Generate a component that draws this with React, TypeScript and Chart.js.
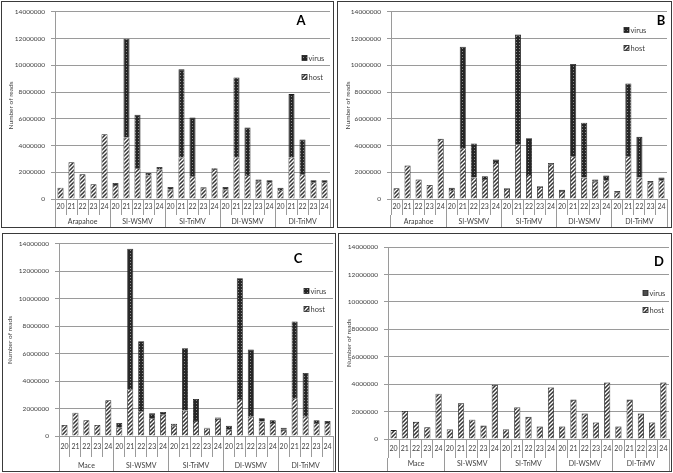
import React, { useEffect, useRef } from 'react';
import { Chart, registerables } from 'chart.js';

Chart.register(...registerables);

// ---------- data ----------
const replicates = ['20', '21', '22', '23', '24'];
const groupsAB = ['Arapahoe', 'SI-WSMV', 'SI-TriMV', 'DI-WSMV', 'DI-TriMV'];
const groupsCD = ['Mace', 'SI-WSMV', 'SI-TriMV', 'DI-WSMV', 'DI-TriMV'];
const seriesNames = ['virus', 'host'];
const yMax = 14000000;
const yStep = 2000000;

const hostA = [
  850000, 2750000, 1850000, 1100000, 4850000,
  1050000, 4600000, 2300000, 1750000, 2200000,
  700000, 3100000, 1700000, 850000, 2250000,
  700000, 3100000, 1800000, 1300000, 1250000,
  650000, 3100000, 1850000, 1250000, 1250000,
];
const virusA = [
  0, 0, 0, 0, 0,
  150000, 7400000, 4000000, 200000, 200000,
  200000, 6600000, 4400000, 50000, 50000,
  200000, 6000000, 3550000, 150000, 150000,
  200000, 4750000, 2600000, 150000, 150000,
];

const hostB = [
  800000, 2500000, 1450000, 1050000, 4500000,
  650000, 3800000, 1600000, 1500000, 2700000,
  750000, 4100000, 1800000, 900000, 2600000,
  600000, 3200000, 1600000, 1300000, 1400000,
  500000, 3200000, 1600000, 1250000, 1400000,
];
const virusB = [
  0, 0, 0, 0, 0,
  200000, 7600000, 2550000, 200000, 250000,
  50000, 8200000, 2750000, 50000, 100000,
  100000, 6900000, 4100000, 150000, 350000,
  100000, 5450000, 3050000, 100000, 200000,
];

const hostC = [
  800000, 1700000, 1150000, 800000, 2600000,
  600000, 3400000, 1800000, 1300000, 1550000,
  750000, 1850000, 1100000, 550000, 1250000,
  500000, 2700000, 1400000, 1050000, 950000,
  450000, 2750000, 1400000, 950000, 950000,
];
const virusC = [
  0, 0, 0, 0, 0,
  350000, 10250000, 5100000, 350000, 200000,
  150000, 4550000, 1600000, 50000, 100000,
  250000, 8800000, 4900000, 250000, 200000,
  150000, 5600000, 3200000, 200000, 150000,
];

const hostD = [
  650000, 2050000, 1250000, 850000, 3300000,
  700000, 2600000, 1400000, 950000, 3950000,
  700000, 2300000, 1600000, 900000, 3750000,
  900000, 2850000, 1850000, 1200000, 4100000,
  900000, 2850000, 1850000, 1200000, 4100000,
];
const virusD = [
  0, 0, 0, 0, 0,
  30000, 30000, 30000, 30000, 30000,
  30000, 30000, 30000, 30000, 30000,
  30000, 30000, 30000, 30000, 30000,
  30000, 30000, 30000, 30000, 30000,
];

// ---------- layout ----------
type PanelCfg = {
  letter: string;
  groups: string[];
  host: number[];
  virus: number[];
  solidVirus: boolean;
  left: number; top: number; width: number; height: number;
  yW: number; padR: number; padT: number;
  catH: number; grpH: number; catPad: number; grpPad: number;
  titlePad: number;
  letterDx: number; letterDy: number;
  legDx: number; virusDy: number; hostDy: number;
};

const panels: PanelCfg[] = [
  { letter: 'A', groups: groupsAB, host: hostA, virus: virusA, solidVirus: false,
    left: 1, top: 1, width: 333, height: 227,
    yW: 53, padR: 3, padT: 4, catH: 16, grpH: 12, catPad: -12, grpPad: -9, titlePad: 5,
    letterDx: -29, letterDy: 9, legDx: -28, virusDy: 46, hostDy: 65 },
  { letter: 'B', groups: groupsAB, host: hostB, virus: virusB, solidVirus: false,
    left: 337, top: 1, width: 335, height: 227,
    yW: 53, padR: 4, padT: 4, catH: 16, grpH: 12, catPad: -12, grpPad: -9, titlePad: 6,
    letterDx: -6, letterDy: 9, legDx: -43, virusDy: 18, hostDy: 36 },
  { letter: 'C', groups: groupsCD, host: hostC, virus: virusC, solidVirus: false,
    left: 2, top: 233, width: 334, height: 239,
    yW: 56, padR: 2, padT: 6, catH: 21, grpH: 14, catPad: -14, grpPad: -9, titlePad: 3,
    letterDx: -35, letterDy: 15, legDx: -29, virusDy: 47, hostDy: 65 },
  { letter: 'D', groups: groupsCD, host: hostD, virus: virusD, solidVirus: true,
    left: 338, top: 233, width: 334, height: 239,
    yW: 49, padR: 2, padT: 13, catH: 19, grpH: 13, catPad: -13, grpPad: -11, titlePad: 6,
    letterDx: -10, letterDy: 15, legDx: -26, virusDy: 46, hostDy: 63 },
];

const FONT = 'Lato, "Liberation Sans", sans-serif';
const LINE = '#9a9a9a';
const TEXT = '#404040';

function makeHostPattern(): CanvasPattern | string {
  const c = document.createElement('canvas');
  c.width = 4; c.height = 4;
  const g = c.getContext('2d');
  if (!g) return '#aaa';
  g.fillStyle = '#ffffff';
  g.fillRect(0, 0, 4, 4);
  g.strokeStyle = '#333333';
  g.lineWidth = 1.5;
  g.beginPath();
  g.moveTo(-1, 5); g.lineTo(5, -1);
  g.moveTo(-1, 1); g.lineTo(1, -1);
  g.moveTo(3, 5); g.lineTo(5, 3);
  g.stroke();
  return g.createPattern(c, 'repeat') || '#aaa';
}

function makeVirusPattern(): CanvasPattern | string {
  const c = document.createElement('canvas');
  c.width = 3; c.height = 3;
  const g = c.getContext('2d');
  if (!g) return '#333';
  g.fillStyle = '#262626';
  g.fillRect(0, 0, 3, 3);
  g.fillStyle = '#8c8c8c';
  g.fillRect(1, 1, 1, 1);
  return g.createPattern(c, 'repeat') || '#333';
}

const panelDecor = {
  id: 'panelDecor',
  afterDraw(chart: any, _args: any, opts: any) {
    const { ctx, chartArea } = chart;
    const { right, top } = chartArea;
    ctx.save();
    ctx.fillStyle = '#000';
    ctx.font = `bold 13px ${FONT}`;
    ctx.textAlign = 'center';
    ctx.textBaseline = 'middle';
    ctx.fillText(opts.letter, right + opts.letterDx, top + opts.letterDy);
    const items = [
      { name: opts.names[0], fill: opts.virusFill, dy: opts.virusDy },
      { name: opts.names[1], fill: opts.hostFill, dy: opts.hostDy },
    ];
    ctx.font = `7.5px ${FONT}`;
    ctx.textAlign = 'left';
    for (const it of items) {
      const x = right + opts.legDx;
      const y = top + it.dy;
      ctx.fillStyle = it.fill;
      ctx.fillRect(x, y - 2.5, 5, 5);
      ctx.strokeStyle = '#222';
      ctx.lineWidth = 0.8;
      ctx.strokeRect(x, y - 2.5, 5, 5);
      ctx.fillStyle = TEXT;
      ctx.fillText(it.name, x + 6.5, y + 0.5);
    }
    ctx.restore();
  },
};

function Panel({ cfg }: { cfg: PanelCfg }) {
  const ref = useRef<HTMLCanvasElement>(null);
  useEffect(() => {
    const canvas = ref.current;
    if (!canvas) return;
    const hostFill = makeHostPattern();
    const virusFill = cfg.solidVirus ? '#4d4d4d' : makeVirusPattern();
    const labels = cfg.groups.flatMap(() => replicates);
    const chart = new Chart(canvas, {
      type: 'bar',
      data: {
        labels,
        datasets: [
          { label: seriesNames[1], data: cfg.host, backgroundColor: hostFill as any, borderColor: '#1e1e1e', borderWidth: 0.8, barPercentage: 0.55, categoryPercentage: 1, stack: 's' },
          { label: seriesNames[0], data: cfg.virus, backgroundColor: virusFill as any, borderColor: '#1e1e1e', borderWidth: 0.8, barPercentage: 0.55, categoryPercentage: 1, stack: 's' },
        ],
      },
      options: {
        responsive: false,
        animation: false,
        devicePixelRatio: 1,
        layout: { padding: { left: 0, right: cfg.padR, top: cfg.padT, bottom: 0 } },
        scales: {
          x: {
            type: 'category',
            stacked: true,
            position: 'bottom',
            weight: 0,
            offset: true,
            grid: { offset: true, drawOnChartArea: false, drawTicks: true, tickLength: cfg.catH, color: LINE },
            border: { display: true, color: LINE },
            ticks: { padding: cfg.catPad, autoSkip: false, maxRotation: 0, color: TEXT, font: { family: FONT, size: 7 } },
            afterFit: (s: any) => { s.height = cfg.catH; },
          } as any,
          x2: {
            type: 'category',
            labels: cfg.groups,
            position: 'bottom',
            weight: 1,
            offset: true,
            grid: { offset: true, drawOnChartArea: false, drawTicks: true, tickLength: cfg.grpH, color: LINE },
            border: { display: false },
            ticks: { padding: cfg.grpPad, autoSkip: false, maxRotation: 0, color: TEXT, font: { family: FONT, size: 7 } },
            afterFit: (s: any) => { s.height = cfg.grpH; },
          } as any,
          y: {
            stacked: true,
            min: 0,
            max: yMax,
            grid: { color: LINE, tickLength: 4 },
            border: { display: true, color: LINE },
            ticks: { stepSize: yStep, padding: 6, color: TEXT, font: { family: FONT, size: 6.5 }, callback: (v: any) => String(v) },
            title: { display: true, text: 'Number of reads', color: TEXT, font: { family: FONT, size: 6.5 }, padding: { top: cfg.titlePad, bottom: 0 } },
            afterFit: (s: any) => { s.width = cfg.yW; },
          } as any,
        },
        plugins: {
          legend: { display: false },
          tooltip: { enabled: false },
          panelDecor: {
            letter: cfg.letter, names: seriesNames, virusFill, hostFill,
            letterDx: cfg.letterDx, letterDy: cfg.letterDy,
            legDx: cfg.legDx, virusDy: cfg.virusDy, hostDy: cfg.hostDy,
          },
        } as any,
      },
      plugins: [panelDecor],
    });
    return () => chart.destroy();
  }, [cfg]);

  return (
    <div
      style={{
        position: 'absolute',
        left: cfg.left,
        top: cfg.top,
        width: cfg.width,
        height: cfg.height,
        border: '1px solid #3a3a3a',
        boxSizing: 'border-box',
        background: '#fff',
      }}
    >
      <canvas ref={ref} width={cfg.width - 2} height={cfg.height - 2} style={{ display: 'block' }} />
    </div>
  );
}

export default function App() {
  return (
    <div style={{ position: 'fixed', left: 0, top: 0, width: 673, height: 473, background: '#fff', overflow: 'hidden' }}>
      {panels.map((p) => (
        <Panel key={p.letter} cfg={p} />
      ))}
    </div>
  );
}
